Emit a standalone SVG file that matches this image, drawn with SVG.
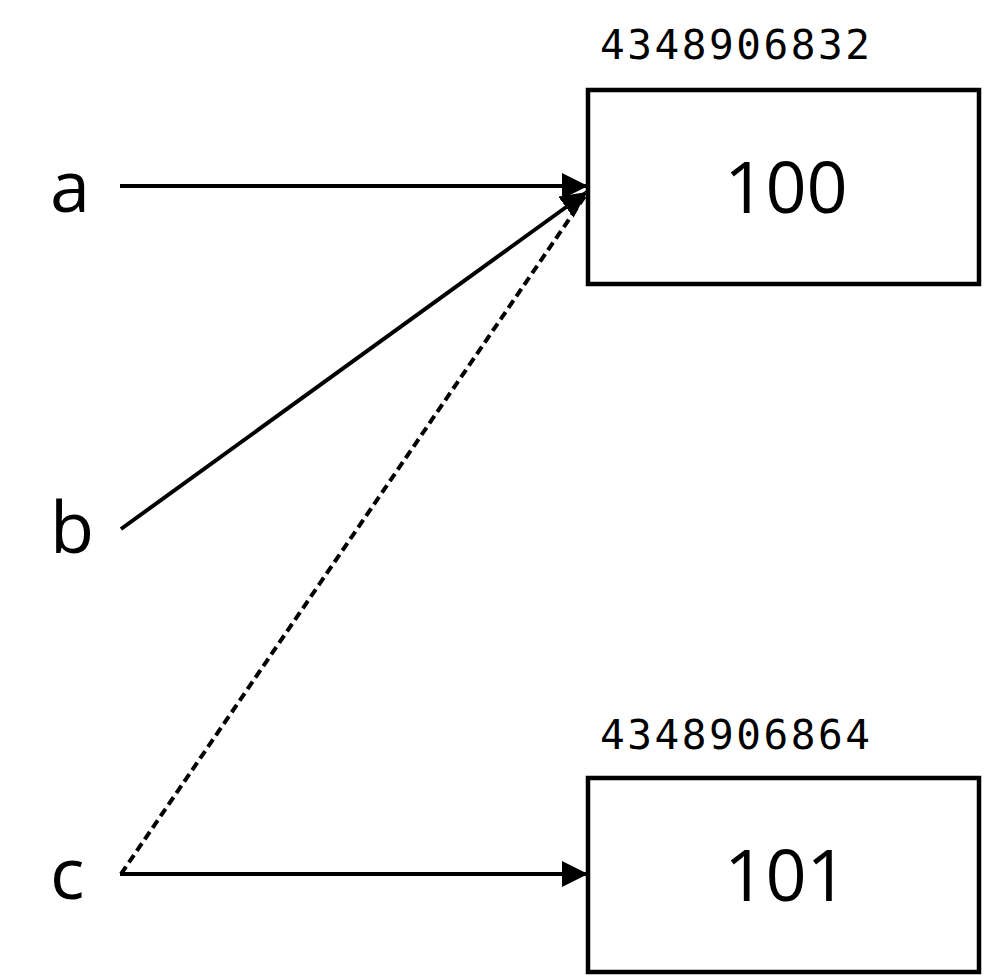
<svg xmlns="http://www.w3.org/2000/svg" width="985" height="976" viewBox="0 0 985 976">
<defs>
<marker id="ah" markerUnits="userSpaceOnUse" markerWidth="28" markerHeight="26" refX="26" refY="13" orient="auto">
<path d="M0,0 L26,13 L0,26 Z" fill="#000"/>
</marker>
<style>
.box{fill:#fff;stroke:#000;stroke-width:4.5}
.val{font-family:"Open Sans","Liberation Sans",sans-serif;font-size:72px;fill:#000;text-anchor:middle}
.addr{font-family:"DejaVu Sans Mono","Liberation Mono",monospace;font-size:41px;fill:#000}
.var{font-family:"Open Sans","Liberation Sans",sans-serif;font-size:72px;fill:#000}
.ln{stroke:#000;stroke-width:4;fill:none}
.dash{stroke-dasharray:9 5}
</style>
</defs>
<rect width="985" height="976" fill="#fff"/>
<g id="connectors">
<line class="ln" x1="120" y1="186" x2="588" y2="186" marker-end="url(#ah)"/>
<line class="ln" x1="121" y1="529" x2="587" y2="192" marker-end="url(#ah)"/>
<line class="ln dash" x1="121" y1="874" x2="585" y2="196"/>
<line class="ln" x1="120" y1="874" x2="588" y2="874" marker-end="url(#ah)"/>
</g>
<g id="var-a"><text class="var" x="50" y="212">a</text></g>
<g id="var-b"><text class="var" x="50" y="553">b</text></g>
<g id="var-c"><text class="var" x="50" y="899">c</text></g>
<g id="obj-100">
<text class="addr" x="600" y="59" textLength="270" lengthAdjust="spacing">4348906832</text>
<rect class="box" x="588" y="90" width="391" height="194"/>
<text class="val" x="786" y="213">100</text>
</g>
<g id="obj-101">
<text class="addr" x="600" y="749" textLength="270" lengthAdjust="spacing">4348906864</text>
<rect class="box" x="588" y="778" width="391" height="194"/>
<text class="val" x="786" y="901">101</text>
</g>
</svg>
